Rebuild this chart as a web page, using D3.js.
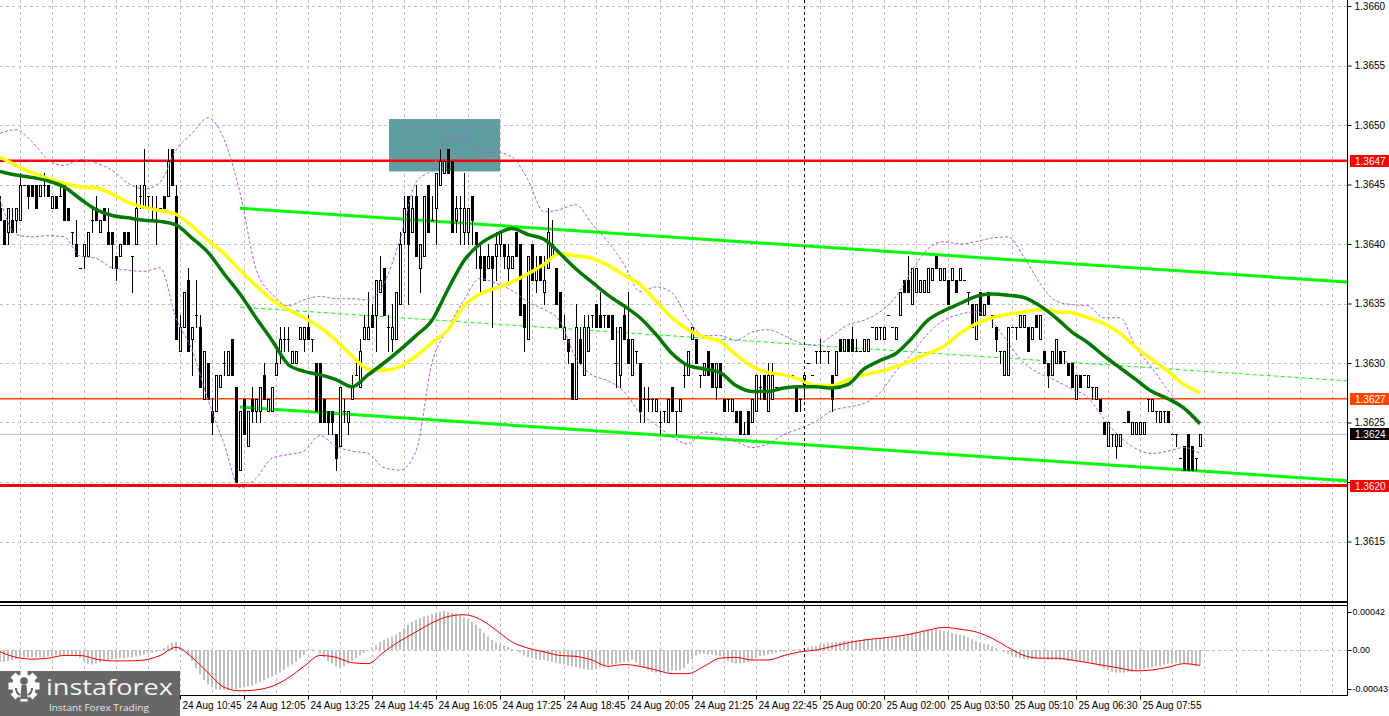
<!DOCTYPE html>
<html><head><meta charset="utf-8">
<script src="https://cdn.jsdelivr.net/npm/d3@7"></script>
<style>
body{margin:0;background:#fff;overflow:hidden}
</style></head>
<body><svg id="chart" width="1389" height="716" font-family='"Liberation Sans",Arial,sans-serif' font-size="10"></svg>
<script>
// ---------------- DATA (M5 bars) ----------------
const open=[1.3643,1.3642,1.3641,1.3642,1.3642,1.3642,1.3645,1.3645,1.3645,1.3645,
1.3644,1.3645,1.3645,1.3643,1.3644,1.3644,1.3645,1.3643,1.3641,1.3640,
1.3638,1.3639,1.3639,1.3642,1.3643,1.3641,1.3643,1.3641,1.3641,1.3639,
1.3639,1.3641,1.3641,1.3639,1.3640,1.3644,1.3643,1.3644,1.3643,1.3642,
1.3643,1.3644,1.3644,1.3648,1.3644,1.3631,1.3633,1.3637,1.3632,1.3634,
1.3633,1.3627,1.3630,1.3626,1.3626,1.3628,1.3630,1.3629,1.3632,1.3628,
1.3621,1.3627,1.3623,1.3627,1.3626,1.3626,1.3629,1.3626,1.3626,1.3629,
1.3631,1.3632,1.3632,1.3630,1.3630,1.3632,1.3632,1.3633,1.3632,1.3630,
1.3630,1.3627,1.3626,1.3626,1.3624,1.3623,1.3626,1.3625,1.3627,1.3629,
1.3628,1.3632,1.3632,1.3634,1.3634,1.3636,1.3638,1.3633,1.3632,1.3632,
1.3635,1.3641,1.3644,1.3641,1.3644,1.3638,1.3639,1.3645,1.3642,1.3643,
1.3645,1.3646,1.3648,1.3647,1.3642,1.3643,1.3641,1.3641,1.3644,1.3641,
1.3639,1.3639,1.3638,1.3639,1.3639,1.3640,1.3640,1.3638,1.3638,1.3641,
1.3640,1.3635,1.3632,1.3640,1.3637,1.3639,1.3636,1.3638,1.3639,1.3638,
1.3636,1.3632,1.3632,1.3630,1.3627,1.3632,1.3629,1.3631,1.3634,1.3635,
1.3634,1.3634,1.3634,1.3634,1.3630,1.3629,1.3634,1.3632,1.3629,1.3631,
1.3630,1.3627,1.3627,1.3627,1.3626,1.3625,1.3626,1.3625,1.3628,1.3626,
1.3626,1.3629,1.3629,1.3632,1.3632,1.3629,1.3629,1.3631,1.3630,1.3628,
1.3630,1.3627,1.3627,1.3626,1.3626,1.3626,1.3624,1.3626,1.3625,1.3626,
1.3628,1.3629,1.3626,1.3627,1.3628,1.3628,1.3629,1.3629,1.3629,1.3628,
1.3627,1.3628,1.3630,1.3629,1.3631,1.3631,1.3631,1.3631,1.3629,1.3629,
1.3632,1.3631,1.3632,1.3632,1.3631,1.3631,1.3631,1.3631,1.3633,1.3632,
1.3633,1.3632,1.3634,1.3633,1.3632,1.3634,1.3637,1.3637,1.3635,1.3636,
1.3636,1.3636,1.3636,1.3637,1.3639,1.3637,1.3637,1.3637,1.3637,1.3637,
1.3637,1.3637,1.3636,1.3635,1.3632,1.3636,1.3634,1.3636,1.3634,1.3633,
1.3631,1.3629,1.3629,1.3633,1.3633,1.3633,1.3633,1.3633,1.3632,1.3634,
1.3632,1.3631,1.3630,1.3629,1.3630,1.3631,1.3631,1.3630,1.3630,1.3627,
1.3629,1.3629,1.3628,1.3628,1.3627,1.3627,1.3625,1.3623,1.3624,1.3623,
1.3623,1.3625,1.3626,1.3624,1.3624,1.3624,1.3624,1.3627,1.3626,1.3626,
1.3625,1.3626,1.3626,1.3624,1.3624,1.3622,1.3623,1.3624,1.3623,1.3622,
1.3623];
const high=[1.3644,1.3642,1.3643,1.3643,1.3643,1.3646,1.3645,1.3645,1.3645,1.3645,
1.3645,1.3646,1.3645,1.3644,1.3644,1.3645,1.3645,1.3643,1.3641,1.3642,
1.3638,1.3640,1.3641,1.3643,1.3644,1.3642,1.3643,1.3643,1.3641,1.3639,
1.3640,1.3641,1.3641,1.3639,1.3645,1.3645,1.3648,1.3644,1.3644,1.3644,
1.3643,1.3644,1.3648,1.3648,1.3645,1.3634,1.3636,1.3638,1.3633,1.3637,
1.3634,1.3631,1.3630,1.3627,1.3629,1.3629,1.3631,1.3631,1.3632,1.3628,
1.3626,1.3627,1.3626,1.3628,1.3627,1.3628,1.3630,1.3627,1.3628,1.3631,
1.3633,1.3633,1.3633,1.3631,1.3631,1.3633,1.3633,1.3634,1.3632,1.3630,
1.3630,1.3627,1.3626,1.3626,1.3624,1.3628,1.3627,1.3626,1.3629,1.3630,
1.3632,1.3634,1.3636,1.3635,1.3637,1.3639,1.3638,1.3634,1.3635,1.3636,
1.3641,1.3644,1.3644,1.3644,1.3645,1.3640,1.3644,1.3645,1.3644,1.3646,
1.3648,1.3647,1.3648,1.3647,1.3644,1.3644,1.3646,1.3643,1.3644,1.3641,
1.3640,1.3639,1.3640,1.3639,1.3641,1.3641,1.3640,1.3640,1.3639,1.3641,
1.3640,1.3635,1.3639,1.3640,1.3639,1.3639,1.3639,1.3643,1.3642,1.3638,
1.3636,1.3634,1.3632,1.3630,1.3635,1.3633,1.3634,1.3634,1.3634,1.3635,
1.3636,1.3634,1.3634,1.3634,1.3633,1.3633,1.3635,1.3636,1.3632,1.3631,
1.3630,1.3628,1.3628,1.3627,1.3627,1.3626,1.3626,1.3627,1.3628,1.3626,
1.3627,1.3630,1.3631,1.3633,1.3632,1.3629,1.3630,1.3631,1.3630,1.3630,
1.3630,1.3627,1.3627,1.3627,1.3626,1.3626,1.3625,1.3626,1.3627,1.3629,
1.3629,1.3629,1.3630,1.3630,1.3628,1.3628,1.3629,1.3629,1.3629,1.3628,
1.3627,1.3629,1.3630,1.3629,1.3631,1.3632,1.3631,1.3631,1.3629,1.3631,
1.3632,1.3632,1.3632,1.3633,1.3632,1.3631,1.3632,1.3632,1.3633,1.3633,
1.3633,1.3633,1.3634,1.3633,1.3633,1.3636,1.3637,1.3639,1.3638,1.3638,
1.3637,1.3637,1.3638,1.3638,1.3639,1.3638,1.3638,1.3637,1.3638,1.3637,
1.3638,1.3637,1.3636,1.3635,1.3635,1.3636,1.3635,1.3636,1.3634,1.3633,
1.3631,1.3631,1.3633,1.3633,1.3633,1.3634,1.3634,1.3633,1.3633,1.3634,
1.3634,1.3631,1.3630,1.3631,1.3632,1.3631,1.3631,1.3630,1.3630,1.3629,
1.3629,1.3629,1.3629,1.3628,1.3628,1.3627,1.3625,1.3625,1.3624,1.3624,
1.3624,1.3625,1.3626,1.3625,1.3625,1.3625,1.3625,1.3627,1.3627,1.3626,
1.3626,1.3626,1.3626,1.3624,1.3624,1.3622,1.3623,1.3624,1.3623,1.3622,
1.3624];
const low=[1.3642,1.3640,1.3640,1.3641,1.3641,1.3642,1.3645,1.3643,1.3644,1.3643,
1.3644,1.3644,1.3644,1.3643,1.3643,1.3644,1.3642,1.3642,1.3640,1.3639,
1.3638,1.3638,1.3639,1.3641,1.3642,1.3641,1.3642,1.3640,1.3638,1.3637,
1.3639,1.3640,1.3640,1.3636,1.3640,1.3643,1.3643,1.3643,1.3642,1.3640,
1.3643,1.3643,1.3644,1.3645,1.3632,1.3631,1.3633,1.3631,1.3629,1.3633,
1.3628,1.3627,1.3627,1.3624,1.3626,1.3628,1.3629,1.3629,1.3629,1.3620,
1.3621,1.3624,1.3623,1.3625,1.3625,1.3625,1.3627,1.3626,1.3626,1.3629,
1.3630,1.3631,1.3631,1.3630,1.3630,1.3632,1.3631,1.3632,1.3631,1.3626,
1.3625,1.3625,1.3624,1.3624,1.3621,1.3623,1.3625,1.3624,1.3627,1.3629,
1.3628,1.3632,1.3632,1.3633,1.3631,1.3636,1.3634,1.3631,1.3631,1.3632,
1.3635,1.3640,1.3635,1.3641,1.3639,1.3636,1.3639,1.3641,1.3642,1.3640,
1.3645,1.3646,1.3646,1.3641,1.3641,1.3640,1.3640,1.3640,1.3640,1.3638,
1.3636,1.3637,1.3638,1.3633,1.3637,1.3639,1.3638,1.3637,1.3638,1.3639,
1.3634,1.3631,1.3632,1.3637,1.3636,1.3637,1.3635,1.3638,1.3639,1.3635,
1.3633,1.3632,1.3630,1.3627,1.3627,1.3630,1.3629,1.3631,1.3633,1.3633,
1.3633,1.3633,1.3633,1.3632,1.3628,1.3628,1.3632,1.3630,1.3629,1.3630,
1.3625,1.3625,1.3626,1.3626,1.3626,1.3624,1.3625,1.3625,1.3626,1.3624,
1.3626,1.3628,1.3629,1.3632,1.3630,1.3628,1.3629,1.3629,1.3628,1.3627,
1.3628,1.3626,1.3626,1.3626,1.3625,1.3624,1.3624,1.3624,1.3625,1.3626,
1.3627,1.3627,1.3626,1.3627,1.3628,1.3628,1.3629,1.3629,1.3629,1.3626,
1.3626,1.3627,1.3630,1.3629,1.3630,1.3630,1.3631,1.3630,1.3626,1.3629,
1.3631,1.3631,1.3631,1.3631,1.3631,1.3631,1.3631,1.3631,1.3633,1.3632,
1.3632,1.3632,1.3634,1.3633,1.3632,1.3634,1.3636,1.3636,1.3635,1.3636,
1.3636,1.3636,1.3636,1.3637,1.3638,1.3637,1.3637,1.3635,1.3637,1.3636,
1.3637,1.3637,1.3635,1.3633,1.3632,1.3634,1.3634,1.3635,1.3633,1.3631,
1.3630,1.3629,1.3629,1.3633,1.3632,1.3633,1.3633,1.3631,1.3632,1.3633,
1.3632,1.3630,1.3628,1.3629,1.3630,1.3630,1.3630,1.3629,1.3628,1.3627,
1.3628,1.3629,1.3628,1.3627,1.3627,1.3626,1.3624,1.3623,1.3623,1.3622,
1.3623,1.3625,1.3625,1.3624,1.3624,1.3624,1.3624,1.3626,1.3626,1.3625,
1.3625,1.3625,1.3625,1.3624,1.3623,1.3622,1.3621,1.3621,1.3621,1.3621,
1.3623];
const close=[1.3642,1.3640,1.3643,1.3641,1.3643,1.3645,1.3645,1.3644,1.3644,1.3643,
1.3645,1.3645,1.3644,1.3644,1.3643,1.3644,1.3642,1.3642,1.3641,1.3639,
1.3638,1.3640,1.3641,1.3642,1.3642,1.3642,1.3642,1.3640,1.3640,1.3638,
1.3640,1.3640,1.3640,1.3639,1.3643,1.3644,1.3645,1.3644,1.3643,1.3642,
1.3643,1.3643,1.3647,1.3645,1.3632,1.3633,1.3636,1.3631,1.3633,1.3634,
1.3628,1.3631,1.3627,1.3625,1.3629,1.3629,1.3630,1.3631,1.3629,1.3620,
1.3626,1.3624,1.3626,1.3626,1.3627,1.3628,1.3627,1.3627,1.3628,1.3630,
1.3632,1.3632,1.3632,1.3631,1.3631,1.3633,1.3633,1.3632,1.3632,1.3626,
1.3625,1.3625,1.3625,1.3625,1.3622,1.3628,1.3626,1.3626,1.3628,1.3629,
1.3631,1.3633,1.3633,1.3633,1.3637,1.3637,1.3634,1.3633,1.3633,1.3636,
1.3640,1.3643,1.3640,1.3643,1.3639,1.3640,1.3644,1.3641,1.3642,1.3646,
1.3647,1.3647,1.3646,1.3641,1.3643,1.3643,1.3643,1.3643,1.3642,1.3640,
1.3638,1.3637,1.3639,1.3638,1.3640,1.3641,1.3639,1.3639,1.3639,1.3639,
1.3634,1.3633,1.3639,1.3637,1.3638,1.3637,1.3637,1.3641,1.3640,1.3635,
1.3633,1.3633,1.3631,1.3627,1.3633,1.3630,1.3633,1.3633,1.3634,1.3633,
1.3633,1.3634,1.3633,1.3632,1.3630,1.3633,1.3632,1.3630,1.3632,1.3631,
1.3626,1.3627,1.3627,1.3627,1.3627,1.3625,1.3626,1.3627,1.3626,1.3626,
1.3627,1.3629,1.3631,1.3633,1.3630,1.3629,1.3630,1.3629,1.3628,1.3630,
1.3628,1.3626,1.3627,1.3627,1.3625,1.3624,1.3624,1.3624,1.3627,1.3629,
1.3628,1.3627,1.3629,1.3629,1.3628,1.3628,1.3629,1.3629,1.3629,1.3626,
1.3627,1.3629,1.3630,1.3629,1.3631,1.3631,1.3631,1.3631,1.3627,1.3631,
1.3631,1.3632,1.3631,1.3631,1.3631,1.3631,1.3632,1.3632,1.3633,1.3633,
1.3633,1.3633,1.3634,1.3633,1.3633,1.3636,1.3636,1.3636,1.3638,1.3638,
1.3637,1.3637,1.3638,1.3638,1.3638,1.3638,1.3638,1.3635,1.3638,1.3636,
1.3638,1.3637,1.3636,1.3633,1.3635,1.3634,1.3635,1.3635,1.3634,1.3632,
1.3631,1.3631,1.3633,1.3633,1.3633,1.3634,1.3634,1.3631,1.3633,1.3633,
1.3634,1.3630,1.3629,1.3631,1.3632,1.3630,1.3631,1.3629,1.3628,1.3629,
1.3628,1.3629,1.3629,1.3628,1.3628,1.3626,1.3624,1.3625,1.3624,1.3624,
1.3624,1.3625,1.3625,1.3625,1.3625,1.3625,1.3625,1.3627,1.3627,1.3626,
1.3626,1.3626,1.3625,1.3624,1.3624,1.3622,1.3621,1.3621,1.3621,1.3622,
1.3624];

// indicator lines, read every 4th bar (bar index 0,4,8,...,300)
const maFast=[1.36461,1.36458,1.36456,1.36453,1.36448,1.36438,1.36429,1.36424,1.36422,1.36420,
1.36419,1.36416,1.36405,1.36393,1.36375,1.36358,1.36338,1.36319,1.36299,1.36293,
1.36290,1.36286,1.36280,1.36290,1.36300,1.36311,1.36323,1.36336,1.36362,1.36386,
1.36400,1.36408,1.36413,1.36408,1.36404,1.36392,1.36379,1.36368,1.36357,1.36348,
1.36338,1.36324,1.36308,1.36298,1.36295,1.36292,1.36281,1.36276,1.36276,1.36279,
1.36280,1.36280,1.36279,1.36282,1.36295,1.36302,1.36308,1.36321,1.36336,1.36344,
1.36350,1.36356,1.36358,1.36357,1.36355,1.36348,1.36338,1.36326,1.36317,1.36306,
1.36296,1.36286,1.36276,1.36270,1.36262,1.36249];
const maSlow=[1.36473,1.36466,1.36460,1.36455,1.36451,1.36448,1.36447,1.36442,1.36435,1.36431,
1.36428,1.36425,1.36415,1.36403,1.36392,1.36378,1.36365,1.36353,1.36345,1.36338,
1.36330,1.36319,1.36306,1.36295,1.36294,1.36297,1.36306,1.36317,1.36328,1.36348,
1.36358,1.36363,1.36368,1.36375,1.36383,1.36392,1.36390,1.36388,1.36382,1.36374,
1.36366,1.36352,1.36338,1.36328,1.36322,1.36318,1.36307,1.36297,1.36292,1.36290,
1.36286,1.36281,1.36281,1.36286,1.36290,1.36293,1.36297,1.36302,1.36308,1.36314,
1.36325,1.36333,1.36338,1.36341,1.36343,1.36345,1.36343,1.36342,1.36338,1.36333,
1.36325,1.36313,1.36303,1.36293,1.36282,1.36275];
const bbUpper=[1.36493,1.36496,1.36486,1.36471,1.36466,1.36471,1.36468,1.36462,1.36451,1.36446,
1.36452,1.36479,1.36493,1.36506,1.36488,1.36443,1.36379,1.36358,1.36348,1.36353,
1.36356,1.36354,1.36354,1.36353,1.36367,1.36404,1.36452,1.36463,1.36490,1.36489,
1.36477,1.36477,1.36473,1.36454,1.36427,1.36429,1.36433,1.36417,1.36402,1.36383,
1.36360,1.36364,1.36359,1.36337,1.36323,1.36323,1.36319,1.36326,1.36328,1.36323,
1.36317,1.36315,1.36323,1.36332,1.36336,1.36343,1.36356,1.36378,1.36396,1.36402,
1.36400,1.36402,1.36405,1.36406,1.36389,1.36367,1.36352,1.36349,1.36348,1.36338,
1.36338,1.36313,1.36296,1.36277,1.36261,1.36247];
const bbLower=[1.36438,1.36408,1.36406,1.36407,1.36406,1.36390,1.36388,1.36380,1.36378,1.36377,
1.36380,1.36338,1.36311,1.36269,1.36232,1.36195,1.36203,1.36220,1.36223,1.36226,
1.36239,1.36230,1.36226,1.36224,1.36212,1.36210,1.36226,1.36300,1.36329,1.36353,
1.36371,1.36367,1.36361,1.36351,1.36345,1.36335,1.36304,1.36290,1.36285,1.36276,
1.36258,1.36248,1.36238,1.36232,1.36242,1.36240,1.36234,1.36229,1.36232,1.36240,
1.36245,1.36251,1.36260,1.36263,1.36266,1.36275,1.36293,1.36308,1.36325,1.36336,
1.36341,1.36343,1.36335,1.36317,1.36300,1.36291,1.36285,1.36278,1.36271,1.36253,
1.36238,1.36228,1.36224,1.36226,1.36229,1.36224];

// MACD histogram (one per bar) and signal (every 4th bar)
const macdHist=[-13e-5,-13e-5,-12e-5,-11e-5,-10e-5,-9e-5,
-8e-5,-8e-5,-8e-5,-8e-5,-8e-5,-8e-5,-7e-5,-7e-5,
-6e-5,-6e-5,-6e-5,-6e-5,-6e-5,-7e-5,-9e-5,
-12e-5,-15e-5,-16e-5,-15e-5,-14e-5,
-12e-5,-11e-5,-10e-5,-10e-5,-9e-5,-9e-5,-8e-5,-8e-5,-7e-5,-6e-5,-5e-5,-4e-5,
-3e-5,-2e-5,-1e-5,2e-5,5e-5,8e-5,9e-5,
5e-5,0,-6e-5,-12e-5,-20e-5,-27e-5,-33e-5,-38e-5,
-41e-5,-43e-5,-44e-5,-44e-5,-44e-5,-43e-5,-43e-5,-42e-5,-41e-5,-40e-5,-39e-5,
-37e-5,-35e-5,-33e-5,-31e-5,-29e-5,-27e-5,-25e-5,-22e-5,-19e-5,
-16e-5,-13e-5,-9e-5,-5e-5,-1e-5,
1e-5,0,-4e-5,
-8e-5,-12e-5,-15e-5,-18e-5,-19e-5,-18e-5,-15e-5,-12e-5,
-9e-5,-6e-5,-3e-5,0,3e-5,6e-5,
9e-5,11e-5,13e-5,15e-5,17e-5,20e-5,24e-5,28e-5,
31e-5,33e-5,35e-5,37e-5,38e-5,40e-5,41e-5,42e-5,43e-5,42e-5,
41e-5,40e-5,38e-5,36e-5,34e-5,31e-5,28e-5,24e-5,19e-5,
15e-5,11e-5,8e-5,6e-5,5e-5,3e-5,
1e-5,0,-3e-5,-6e-5,-8e-5,-9e-5,-10e-5,
-11e-5,-11e-5,-12e-5,-13e-5,-14e-5,-15e-5,-16e-5,-17e-5,-18e-5,
-19e-5,-20e-5,-21e-5,-22e-5,-22e-5,-21e-5,-19e-5,-18e-5,-17e-5,
-16e-5,-15e-5,-14e-5,-13e-5,-12e-5,-11e-5,-14e-5,-17e-5,
-20e-5,-22e-5,-24e-5,-25e-5,-25e-5,-24e-5,-24e-5,-23e-5,-23e-5,-22e-5,-20e-5,-15e-5,
-10e-5,-6e-5,-4e-5,-4e-5,-5e-5,-5e-5,-6e-5,-7e-5,
-10e-5,-12e-5,-14e-5,-15e-5,-15e-5,-14e-5,-13e-5,-11e-5,-9e-5,
-7e-5,-6e-5,-5e-5,-4e-5,-3e-5,-2e-5,-2e-5,-1e-5,
0,1e-5,1e-5,2e-5,3e-5,4e-5,5e-5,6e-5,
7e-5,8e-5,8e-5,9e-5,9e-5,10e-5,10e-5,11e-5,
11e-5,11e-5,12e-5,12e-5,12e-5,12e-5,13e-5,13e-5,13e-5,14e-5,14e-5,15e-5,16e-5,
17e-5,18e-5,19e-5,20e-5,21e-5,22e-5,23e-5,23e-5,22e-5,21e-5,
20e-5,19e-5,18e-5,17e-5,16e-5,14e-5,12e-5,10e-5,
8e-5,7e-5,6e-5,4e-5,2e-5,0,-2e-5,
-4e-5,-6e-5,-8e-5,-9e-5,-10e-5,-10e-5,-10e-5,
-10e-5,-10e-5,-10e-5,-11e-5,-11e-5,-11e-5,-11e-5,-11e-5,-12e-5,-12e-5,-12e-5,-13e-5,-13e-5,-14e-5,-15e-5,-16e-5,-18e-5,-20e-5,-22e-5,
-24e-5,-25e-5,-25e-5,-25e-5,-24e-5,-24e-5,-23e-5,-22e-5,-21e-5,-20e-5,
-19e-5,-18e-5,-17e-5,-16e-5,-15e-5,-15e-5,-14e-5,-14e-5,
-15e-5,-16e-5,-17e-5,-18e-5,-17e-5];
const macdSignal=[-2e-5,-8e-5,-10e-5,-9e-5,-6e-5,-6e-5,-10e-5,-12e-5,-12e-5,-11e-5,
-6e-5,3e-5,-8e-5,-25e-5,-41e-5,-45e-5,-44e-5,-40e-5,-31e-5,-18e-5,
-6e-5,-8e-5,-14e-5,-15e-5,-2e-5,10e-5,20e-5,30e-5,37e-5,39e-5,
34e-5,22e-5,9e-5,2e-5,-2e-5,-6e-5,-7e-5,-11e-5,-18e-5,-16e-5,
-18e-5,-22e-5,-26e-5,-26e-5,-18e-5,-9e-5,-8e-5,-11e-5,-11e-5,-6e-5,
-2e-5,0,4e-5,8e-5,11e-5,13e-5,15e-5,18e-5,22e-5,25e-5,
23e-5,20e-5,13e-5,3e-5,-6e-5,-9e-5,-9e-5,-11e-5,-14e-5,-17e-5,
-20e-5,-23e-5,-22e-5,-19e-5,-15e-5,-17e-5];

// axis / annotation values
const priceTicks=[1.3615,1.3620,1.3625,1.3630,1.3635,1.3640,1.3645,1.3650,1.3655,1.3660];
const macdTicks=[0.00042,0,-0.00043];
const timeLabels=["24 Aug 10:45","24 Aug 12:05","24 Aug 13:25","24 Aug 14:45","24 Aug 16:05","24 Aug 17:25","24 Aug 18:45","24 Aug 20:05","24 Aug 21:25","24 Aug 22:45","25 Aug 00:20","25 Aug 02:00","25 Aug 03:50","25 Aug 05:10","25 Aug 06:30","25 Aug 07:55"];
const timeLabelBars=[45,61,77,93,109,125,141,157,173,189,205,221,237,253,269,285];
const levelPrices=[1.3647,1.3627,1.3624,1.36197];
const channelBars=[60,336.75];
const channelUpper=[1.36430,1.36368];
const channelMid=[1.36347,1.36285];
const channelLower=[1.36263,1.36201];
const zoneBars=[97.25,125];
const zonePrices=[1.36461,1.36505];
const sessionBar=201;
const sampleBars=d3.range(0,301,4);

// ---------------- LAYOUT ----------------
const plotR=1347, mainB=601, macdT=606, macdB=694;
const FONT='"Liberation Sans",Arial,sans-serif';
const svg=d3.select('#chart');
const x=d3.scaleLinear().domain([0,336.75]).range([0,plotR]);
const y=d3.scaleLinear().domain([1.3610,1.3660]).range([601,6]);
const ym=d3.scaleLinear().domain([-0.00043,0.00042]).range([689,612]);
const px=v=>Math.round(v)+0.5;

const defs=svg.append('defs');
defs.append('clipPath').attr('id','cm').append('rect').attr('x',0).attr('y',0).attr('width',plotR).attr('height',mainB);
defs.append('clipPath').attr('id','cd').append('rect').attr('x',0).attr('y',macdT).attr('width',plotR).attr('height',macdB-macdT);
svg.append('rect').attr('width',1389).attr('height',716).attr('fill','#fff');
const gM=svg.append('g').attr('clip-path','url(#cm)');
const gD=svg.append('g').attr('clip-path','url(#cd)');

// grid
const gridBars=d3.range(5,337,8);
const gridStyle=s=>s.attr('stroke','#c0c0c0').attr('stroke-width',1).attr('stroke-dasharray','3,3').attr('shape-rendering','crispEdges');
gM.selectAll('.vg').data(gridBars).join('line').attr('x1',d=>px(x(d))).attr('x2',d=>px(x(d))).attr('y1',0).attr('y2',mainB).call(gridStyle);
gM.selectAll('.hg').data(priceTicks).join('line').attr('x1',0).attr('x2',plotR).attr('y1',d=>px(y(d))).attr('y2',d=>px(y(d))).call(gridStyle);
gD.selectAll('.vg').data(gridBars).join('line').attr('x1',d=>px(x(d))).attr('x2',d=>px(x(d))).attr('y1',macdT).attr('y2',macdB).call(gridStyle);
gD.append('line').attr('x1',0).attr('x2',plotR).attr('y1',px(ym(0))).attr('y2',px(ym(0))).call(gridStyle);

// zone
gM.append('rect').attr('x',x(zoneBars[0])).attr('width',x(zoneBars[1])-x(zoneBars[0]))
 .attr('y',y(zonePrices[1])).attr('height',y(zonePrices[0])-y(zonePrices[1])).attr('fill','#5f9ea0');

// level lines
const levelStyle=[{c:'#ff0000',w:2.5},{c:'#ff4500',w:1.5},{c:'#c0c0c0',w:1},{c:'#ff0000',w:3}];
levelPrices.forEach((p,k)=>{
  gM.append('line').attr('x1',0).attr('x2',plotR).attr('y1',y(p)).attr('y2',y(p))
   .attr('stroke',levelStyle[k].c).attr('stroke-width',levelStyle[k].w);
});

// channel
[[channelUpper,3,null],[channelLower,3,null],[channelMid,1,'4,3']].forEach(([arr,w,dash])=>{
  gM.append('line').attr('x1',x(channelBars[0])).attr('x2',x(channelBars[1]))
   .attr('y1',y(arr[0])).attr('y2',y(arr[1])).attr('stroke','#00ff00').attr('stroke-width',w)
   .attr('stroke-dasharray',dash);
});

// candles
const bars=open.map((o,i)=>({i,o,h:high[i],l:low[i],c:close[i]}));
const gc=gM.append('g').attr('shape-rendering','crispEdges');
bars.forEach(b=>{
  const cx=Math.round(x(b.i));
  gc.append('line').attr('x1',cx+0.5).attr('x2',cx+0.5).attr('y1',Math.round(y(b.h))).attr('y2',Math.round(y(b.l))+1).attr('stroke','#000');
  const top=Math.round(y(Math.max(b.o,b.c))), bot=Math.round(y(Math.min(b.o,b.c)));
  if(b.o===b.c){
    gc.append('rect').attr('x',cx-1).attr('y',top).attr('width',3).attr('height',1).attr('fill','#000');
  } else if(b.c>b.o){
    gc.append('rect').attr('x',cx-0.5).attr('y',top+0.5).attr('width',2).attr('height',Math.max(1,bot-top)).attr('fill','#fff').attr('stroke','#000');
  } else {
    gc.append('rect').attr('x',cx-1).attr('y',top).attr('width',3).attr('height',Math.max(1,bot-top+1)).attr('fill','#000');
  }
});

// indicators
const line=d3.line().x((d,k)=>x(sampleBars[k])).y(d=>y(d)).curve(d3.curveMonotoneX);
[bbUpper,bbLower].forEach(a=>gM.append('path').attr('d',line(a)).attr('fill','none').attr('stroke','#b45cd8').attr('stroke-width',1).attr('stroke-dasharray','3,2'));
gM.append('path').attr('d',line(maSlow)).attr('fill','none').attr('stroke','#ffff00').attr('stroke-width',3.5);
gM.append('path').attr('d',line(maFast)).attr('fill','none').attr('stroke','#007a00').attr('stroke-width',3.5);

// MACD
gD.selectAll('.hb').data(macdHist).join('rect')
 .attr('x',(d,i)=>Math.round(x(i))-1).attr('width',2)
 .attr('y',d=>Math.min(ym(d),ym(0))).attr('height',d=>Math.abs(ym(d)-ym(0)))
 .attr('fill','#c0c0c0');
const sline=d3.line().x((d,k)=>x(sampleBars[k])).y(d=>ym(d)).curve(d3.curveMonotoneX);
gD.append('path').attr('d',sline(macdSignal)).attr('fill','none').attr('stroke','#ff0000').attr('stroke-width',1);

// session separator
svg.append('line').attr('x1',px(x(sessionBar))).attr('x2',px(x(sessionBar))).attr('y1',0).attr('y2',macdB)
 .attr('stroke','#000').attr('stroke-dasharray','3,3').attr('shape-rendering','crispEdges');

// frames
const frame=svg.append('g').attr('stroke','#000').attr('shape-rendering','crispEdges');
frame.append('line').attr('x1',0).attr('x2',plotR+1).attr('y1',601.5).attr('y2',601.5).attr('stroke-width',2);
frame.append('line').attr('x1',0).attr('x2',plotR+1).attr('y1',605.5).attr('y2',605.5).attr('stroke-width',1.5);
frame.append('line').attr('x1',0).attr('x2',plotR+1).attr('y1',695.5).attr('y2',695.5).attr('stroke-width',1.5);
frame.append('line').attr('x1',plotR+0.5).attr('x2',plotR+0.5).attr('y1',0).attr('y2',696).attr('stroke-width',1.5);

// price axis (the 1.3620 grid label sits under its level box)
const covered=new Set(levelPrices.map(p=>p.toFixed(4)));
const pa=svg.append('g').attr('transform',`translate(${plotR+0.5},0)`)
 .call(d3.axisRight(y).tickValues(priceTicks).tickFormat(d=>covered.has(d.toFixed(4))?'':d.toFixed(4)).tickSize(4).tickPadding(3));
pa.select('.domain').remove();
pa.attr('font-family',FONT).attr('font-size',10);
const ma=svg.append('g').attr('transform',`translate(${plotR+0.5},0)`)
 .call(d3.axisRight(ym).tickValues(macdTicks).tickFormat(d=>d===0?'0.00':d.toFixed(5)).tickSize(4).tickPadding(1));
ma.select('.domain').remove();
ma.attr('font-family',FONT).attr('font-size',9);

// level boxes
const boxColors=['#ff0000','#ff4500','#000000','#ff0000'];
levelPrices.forEach((p,k)=>{
  const yy=Math.round(y(p));
  svg.append('rect').attr('x',plotR+3).attr('y',yy-6).attr('width',1389-plotR-3).attr('height',12).attr('fill',boxColors[k]);
  svg.append('text').attr('x',plotR+8).attr('y',yy).attr('dy','0.35em').attr('fill','#fff').attr('font-family',FONT).attr('font-size',10).text(p.toFixed(4));
});

// time axis
const ta=svg.append('g').attr('transform','translate(0,695.5)')
 .call(d3.axisBottom(x).tickValues(timeLabelBars).tickFormat((d,k)=>timeLabels[k]).tickSize(4).tickPadding(2));
ta.select('.domain').remove();
ta.attr('font-family',FONT).attr('font-size',10);
ta.selectAll('text').attr('text-anchor','start').attr('dx','0.2em');

// logo
const lg=svg.append('g');
lg.append('rect').attr('x',0).attr('y',671).attr('width',180).attr('height',45).attr('fill','#676767');
const gear=lg.append('g').attr('transform','translate(24,686)');
[0,45,90,135].forEach(a=>gear.append('rect').attr('x',-3.5).attr('y',-15.5).attr('width',7).attr('height',31).attr('fill','#fff').attr('transform',`rotate(${a})`));
gear.append('circle').attr('r',12).attr('fill','#fff');
gear.append('circle').attr('cy',-5).attr('r',3.8).attr('fill','#676767');
gear.append('path').attr('d','M-2.5,-1 L2.5,-1 L3.8,13 L-3.8,13 Z').attr('fill','#676767');
gear.append('path').attr('d','M-8,2 A8,8 0 0 0 -4,9 M8,2 A8,8 0 0 1 4,9').attr('stroke','#676767').attr('stroke-width',2).attr('fill','none');
lg.append('text').attr('x',46).attr('y',695).attr('fill','#f4f4f4').attr('font-family','"Open Sans",Lato,sans-serif')
 .attr('font-size',21).attr('textLength',127).attr('lengthAdjust','spacingAndGlyphs').text('instaforex');
lg.append('text').attr('x',49).attr('y',711).attr('fill','#e6e6e6').attr('font-family','"Open Sans",Lato,sans-serif')
 .attr('font-size',9.5).attr('textLength',100).attr('lengthAdjust','spacingAndGlyphs').text('Instant Forex Trading');
</script>
</body></html>
